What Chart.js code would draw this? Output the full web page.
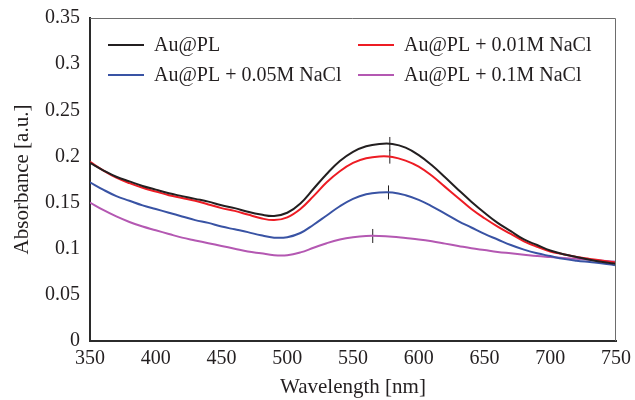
<!DOCTYPE html>
<html>
<head>
<meta charset="utf-8">
<script src="https://cdn.jsdelivr.net/npm/chart.js"></script>
<style>
  html, body { margin: 0; padding: 0; background: #fff; }
  #wrap { width: 635px; height: 400px; }
</style>
</head>
<body>
<div id="wrap"><canvas id="absChart" width="635" height="400"></canvas></div>
<script>
    // wavelength grid [nm]
    const wavelengths = [350, 360, 370, 380, 390, 400, 410, 420, 430, 440, 450, 460, 470, 480, 490, 500,
        510, 520, 530, 540, 550, 560, 570, 580, 590, 600, 610, 620, 630, 640, 650, 660, 670, 680, 690, 700,
        710, 720, 730, 740, 750];

    const auPL = [0.193, 0.185, 0.178, 0.173, 0.168, 0.164, 0.160, 0.157, 0.154, 0.151, 0.147, 0.144, 0.140, 0.137, 0.1355, 0.139,
        0.149, 0.165, 0.181, 0.195, 0.205, 0.211, 0.2135, 0.2135, 0.2095, 0.2015, 0.1905, 0.1775, 0.164, 0.151, 0.139, 0.128, 0.119, 0.110, 0.104, 0.098,
        0.094, 0.091, 0.088, 0.0855, 0.0835];

    const nacl001 = [0.194, 0.185, 0.177, 0.171, 0.166, 0.162, 0.158, 0.155, 0.152, 0.148, 0.144, 0.141, 0.137, 0.133, 0.131, 0.134,
        0.143, 0.157, 0.172, 0.184, 0.193, 0.198, 0.200, 0.1995, 0.1955, 0.189, 0.179, 0.167, 0.155, 0.143, 0.133, 0.124, 0.116, 0.108, 0.102, 0.097,
        0.094, 0.091, 0.089, 0.087, 0.085];

    const nacl005 = [0.172, 0.164, 0.157, 0.152, 0.147, 0.143, 0.139, 0.135, 0.131, 0.128, 0.124, 0.121, 0.118, 0.1145, 0.112, 0.1125,
        0.117, 0.126, 0.136, 0.146, 0.154, 0.159, 0.161, 0.161, 0.158, 0.153, 0.146, 0.138, 0.130, 0.123, 0.116, 0.110, 0.104, 0.099, 0.095, 0.092,
        0.089, 0.087, 0.0855, 0.084, 0.082];

    const nacl01 = [0.150, 0.142, 0.135, 0.129, 0.124, 0.120, 0.116, 0.112, 0.109, 0.106, 0.103, 0.100, 0.097, 0.095, 0.093, 0.093,
        0.096, 0.101, 0.106, 0.110, 0.1125, 0.1138, 0.1138, 0.113, 0.1115, 0.110, 0.108, 0.1055, 0.103, 0.1005, 0.0985, 0.0965, 0.095, 0.0935, 0.092, 0.091,
        0.090, 0.089, 0.088, 0.087, 0.086];

    // peak markers (small vertical ticks)
    const peakX = [578, 578, 577, 565];
    const peakY = [0.2135, 0.1998, 0.161, 0.1138];

    const seriesNames = ['Au@PL', 'Au@PL + 0.01M NaCl', 'Au@PL + 0.05M NaCl', 'Au@PL + 0.1M NaCl'];
    const seriesColors = ['#231f20', '#ed1c24', '#3953a4', '#b458b2'];
    const seriesData = [auPL, nacl001, nacl005, nacl01];

    const yTicks = [0, 0.05, 0.1, 0.15, 0.2, 0.25, 0.3, 0.35];
    const xTicks = [350, 400, 450, 500, 550, 600, 650, 700, 750];

    const FONT = '"Liberation Serif", "DejaVu Serif", serif';

    let datasets = seriesData.map((vals, i) => ({
        label: seriesNames[i],
        data: wavelengths.map((w, j) => ({ x: w, y: vals[j] })),
        borderColor: seriesColors[i],
        borderWidth: 2,
        pointRadius: 0,
        tension: 0.4,
        fill: false
    }));

    datasets.push({
        label: 'peaks',
        data: peakX.map((x, i) => ({ x: x, y: peakY[i] })),
        showLine: false,
        pointStyle: 'line',
        rotation: 90,
        pointRadius: 7,
        borderColor: '#231f20',
        borderWidth: 1
    });

    // frame + two-column legend like the original figure
    const framePlugin = {
        id: 'framePlugin',
        afterDraw(chart) {
            const ctx = chart.ctx;
            const a = chart.chartArea;
            ctx.save();
            ctx.strokeStyle = '#6d6d6d';
            ctx.lineWidth = 1;
            ctx.beginPath();
            ctx.moveTo(a.left, a.top + 0.5);
            ctx.lineTo(a.right - 0.5, a.top + 0.5);
            ctx.lineTo(a.right - 0.5, a.bottom);
            ctx.stroke();

            const cols = [108, 358];
            const rows = [45, 75];
            ctx.font = '20px ' + FONT;
            ctx.textBaseline = 'middle';
            ctx.fillStyle = '#231f20';
            seriesNames.forEach((name, n) => {
                const cx = cols[n % 2], cy = rows[Math.floor(n / 2)];
                ctx.strokeStyle = seriesColors[n];
                ctx.lineWidth = 2;
                ctx.beginPath();
                ctx.moveTo(cx, cy);
                ctx.lineTo(cx + 36, cy);
                ctx.stroke();
                ctx.fillText(name, cx + 46, cy + 1);
            });
            ctx.restore();
        }
    };

    let ctx = document.getElementById('absChart').getContext('2d');
    let absChart = new Chart(ctx, {
        type: 'line',
        data: { datasets: datasets },
        plugins: [framePlugin],
        options: {
            responsive: false,
            animation: false,
            layout: { padding: { top: 18, right: 19, left: 0, bottom: 0 } },
            plugins: { legend: { display: false }, tooltip: { enabled: false } },
            scales: {
                x: {
                    type: 'linear',
                    min: 350, max: 750,
                    afterBuildTicks: (s) => { s.ticks = xTicks.map(v => ({ value: v })); },
                    grid: { display: false, drawTicks: false },
                    border: { display: true, color: '#2b2b2b', width: 2 },
                    ticks: { color: '#231f20', font: { family: FONT, size: 20 }, padding: 6, maxRotation: 0 },
                    title: { display: true, text: 'Wavelength [nm]', color: '#231f20', font: { family: FONT, size: 21 }, padding: { top: 0, bottom: 0 } },
                    afterFit: (s) => { s.height = 59; s.paddingLeft = 0; s.paddingRight = 0; }
                },
                y: {
                    min: 0, max: 0.35,
                    afterBuildTicks: (s) => { s.ticks = yTicks.map(v => ({ value: v })); },
                    grid: { display: false, drawTicks: false },
                    border: { display: true, color: '#2b2b2b', width: 2 },
                    ticks: {
                        color: '#231f20', font: { family: FONT, size: 20 }, padding: 10,
                        callback: (v) => String(parseFloat(v.toFixed(2)))
                    },
                    title: { display: true, text: 'Absorbance [a.u.]', color: '#231f20', font: { family: FONT, size: 21 }, padding: { top: 10, bottom: 0 } },
                    afterFit: (s) => { s.width = 90; s.paddingTop = 0; s.paddingBottom = 0; }
                }
            }
        }
    });
</script>
</body>
</html>
